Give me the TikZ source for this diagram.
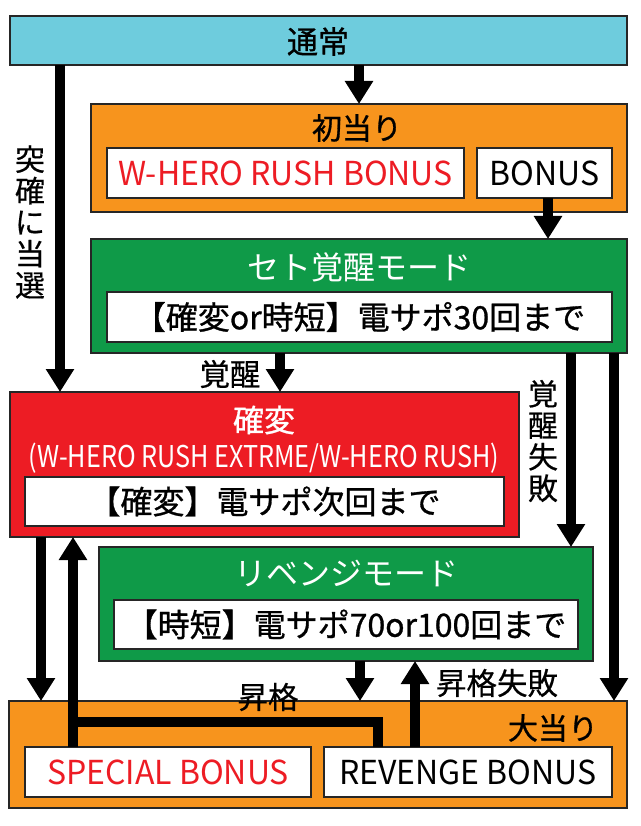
\documentclass[tikz,border=0pt]{standalone}
\usepackage{fontspec}
\setmainfont{Noto Sans CJK JP}
\newfontfamily\condfont[FakeStretch=0.84]{Noto Sans CJK JP}
\newfontfamily\latfont[FakeStretch=0.97]{Noto Sans CJK JP}
\newfontfamily\medfont[FakeBold=0.9]{Noto Sans CJK JP}
\newfontfamily\semfont[FakeBold=0.5]{Noto Sans CJK JP}
\usetikzlibrary{arrows.meta}
\definecolor{cCyan}{HTML}{6ECCDD}
\definecolor{cOrange}{HTML}{F7941D}
\definecolor{cGreen}{HTML}{0F9A48}
\definecolor{cRed}{HTML}{ED1C24}
\tikzset{
  panel/.style={draw=black!85, line width=1.3pt, anchor=north west, inner sep=0pt, outer sep=0pt},
  inbox/.style={panel, fill=white},
  ttl/.style={font=\fontsize{30}{32}\medfont, inner sep=0pt},
  gttl/.style={font=\fontsize{32}{34}\selectfont, inner sep=0pt, text=white},
  intext/.style={font=\fontsize{32}{34}\medfont},
  latext/.style={font=\fontsize{33}{35}\latfont},
  lbl/.style={font=\fontsize{30.5}{32}\semfont, inner sep=0pt},
  vlbl/.style={font=\fontsize{30}{31.5}\semfont, inner sep=0pt, align=center},
  flow/.style={line width=10pt, -{Triangle[width=27pt,length=23pt]}},
  bar/.style={line width=10pt, line join=miter},
}
\begin{document}
\begin{tikzpicture}[x=1pt,y=-1pt]
\useasboundingbox (0,0) rectangle (640,826);
% panels
\node[panel, fill=cCyan, minimum width=617pt, minimum height=49pt] (tsujo) at (10,16) {};
\node[ttl, font=\fontsize{31}{33}\medfont] (tsujoT) at (318,41.5) {通常};

\node[panel, fill=cOrange, minimum width=536pt, minimum height=108pt] (hatsu) at (91,104) {};
\node[ttl] (hatsuT) at (357,128) {初当り};
\node[inbox, minimum width=357pt, minimum height=50pt, text=cRed, latext] (whero) at (107,148) {W-HERO RUSH BONUS};
\node[inbox, minimum width=135pt, minimum height=50pt, latext] (bonus) at (477,148) {BONUS};

\node[panel, fill=cGreen, minimum width=536pt, minimum height=114pt] (set) at (91,239) {};
\node[gttl] (setT) at (359,267) {セト覚醒モード};
\node[inbox, minimum width=505pt, minimum height=50pt, intext] (setin) at (107,292) {【確変or時短】電サポ30回まで};

\node[panel, fill=cRed, minimum width=509pt, minimum height=145pt] (kaku) at (10,392) {};
\node[ttl, text=white, font=\fontsize{31}{33}\medfont] (kakuT) at (264,420) {確変};
\node[inner sep=0pt, text=white, font=\fontsize{30}{32}\condfont] (kakuS) at (264,458) {(W-HERO RUSH EXTRME/W-HERO RUSH)};
\node[inbox, minimum width=479pt, minimum height=49pt, intext] (kakuin) at (25,477) {【確変】電サポ次回まで};

\node[panel, fill=cGreen, minimum width=494pt, minimum height=114pt] (rev) at (99,547) {};
\node[gttl] (revT) at (346,573) {リベンジモード};
\node[inbox, minimum width=464pt, minimum height=49pt, intext] (revin) at (114,600) {【時短】電サポ70or100回まで};

\node[panel, fill=cOrange, minimum width=618pt, minimum height=107pt] (oo) at (9,701) {};
\node[ttl] (ooT) at (553,728) {大当り};
\node[inbox, minimum width=286pt, minimum height=50pt, text=cRed, latext] (sp) at (25,747) {SPECIAL BONUS};
\node[inbox, minimum width=288pt, minimum height=50pt, latext] (rb) at (324,747) {REVENGE BONUS};

% connectors
\draw[flow] (359,0 |- tsujo.south) -- (359,0 |- hatsu.north);
\draw[flow] (60,0 |- tsujo.south) -- (60,0 |- kaku.north);
\draw[flow] (548,0 |- bonus.south) -- (548,0 |- set.north);
\draw[flow] (280,0 |- set.south) -- (280,0 |- kaku.north);
\draw[flow] (571,0 |- set.south) -- (571,0 |- rev.north);
\draw[flow] (614,0 |- set.south) -- (614,0 |- oo.north);
\draw[flow] (41,0 |- kaku.south) -- (41,0 |- oo.north);
\draw[flow] (73,0 |- sp.north) -- (73,0 |- kaku.south);
\coordinate (jn) at (73,722);
\draw[bar] (378,0 |- rb.north) |- (jn);
\draw[flow] (360,0 |- rev.south) -- (360,0 |- oo.north);
\draw[flow] (415,0 |- rb.north) -- (415,0 |- rev.south);

% labels
\node[vlbl] (l1) at (30,222) {突\\確\\に\\当\\選};
\node[lbl] (l2) at (230,374) {覚醒};
\node[vlbl] (l3) at (543,441) {覚\\醒\\失\\敗};
\node[lbl] (l4) at (268,697) {昇格};
\node[lbl] (l5) at (497,683) {昇格失敗};
\end{tikzpicture}
\end{document}
